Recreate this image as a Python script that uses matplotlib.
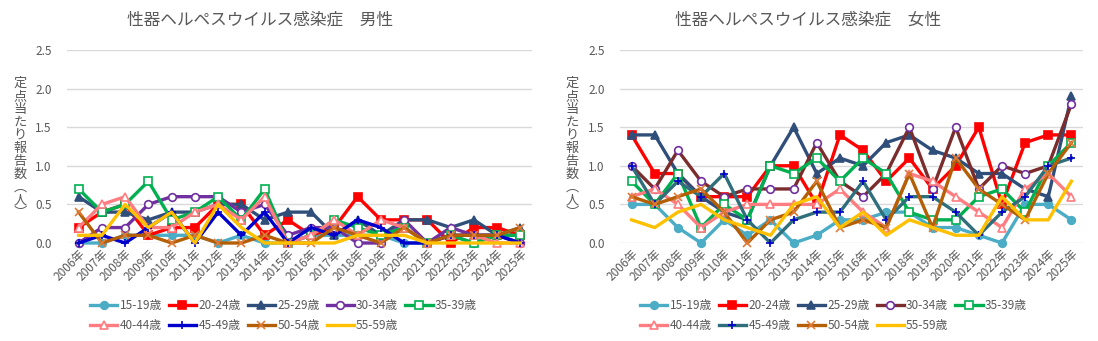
import matplotlib
matplotlib.use("Agg")
import matplotlib.pyplot as plt

plt.rcParams['font.family'] = ['Noto Sans CJK JP', 'DejaVu Sans']

years = [f"{y}年" for y in range(2006, 2026)]
ages = ['15-19歳', '20-24歳', '25-29歳', '30-34歳', '35-39歳',
        '40-44歳', '45-49歳', '50-54歳', '55-59歳']

# 男性
m_1519 = [0.0, 0.0, 0.1, 0.1, 0.1, 0.1, 0.0, 0.1, 0.0, 0.0, 0.1, 0.1, 0.1, 0.1, 0.0, 0.0, 0.1, 0.0, 0.1, 0.1]
m_2024 = [0.2, 0.4, 0.5, 0.1, 0.2, 0.2, 0.5, 0.5, 0.1, 0.3, 0.1, 0.2, 0.6, 0.3, 0.3, 0.3, 0.0, 0.2, 0.2, 0.1]
m_2529 = [0.6, 0.4, 0.4, 0.3, 0.4, 0.4, 0.5, 0.5, 0.3, 0.4, 0.4, 0.1, 0.3, 0.1, 0.3, 0.3, 0.2, 0.3, 0.1, 0.2]
m_3034 = [0.0, 0.2, 0.2, 0.5, 0.6, 0.6, 0.6, 0.4, 0.5, 0.1, 0.2, 0.2, 0.0, 0.0, 0.3, 0.0, 0.2, 0.1, 0.1, 0.0]
m_3539 = [0.7, 0.4, 0.5, 0.8, 0.3, 0.4, 0.6, 0.3, 0.7, 0.0, 0.1, 0.3, 0.2, 0.1, 0.2, 0.0, 0.1, 0.0, 0.1, 0.1]
m_4044 = [0.2, 0.5, 0.6, 0.2, 0.2, 0.4, 0.5, 0.3, 0.6, 0.0, 0.1, 0.3, 0.1, 0.3, 0.2, 0.0, 0.1, 0.1, 0.0, 0.0]
m_4549 = [0.0, 0.1, 0.0, 0.2, 0.4, 0.0, 0.4, 0.1, 0.4, 0.0, 0.2, 0.1, 0.3, 0.2, 0.0, 0.0, 0.1, 0.1, 0.1, 0.0]
m_5054 = [0.4, 0.0, 0.1, 0.1, 0.0, 0.1, 0.0, 0.0, 0.1, 0.0, 0.0, 0.2, 0.1, 0.0, 0.2, 0.0, 0.1, 0.1, 0.1, 0.2]
m_5559 = [0.1, 0.1, 0.5, 0.2, 0.4, 0.0, 0.5, 0.2, 0.0, 0.0, 0.0, 0.0, 0.1, 0.1, 0.1, 0.0, 0.0, 0.0, 0.0, 0.0]

# 女性
f_1519 = [0.5, 0.5, 0.2, 0.0, 0.3, 0.1, 0.3, 0.0, 0.1, 0.3, 0.3, 0.4, 0.4, 0.2, 0.2, 0.1, 0.0, 0.5, 0.5, 0.3]
f_2024 = [1.4, 0.9, 0.9, 0.6, 0.6, 0.6, 1.0, 1.0, 0.5, 1.4, 1.2, 0.8, 1.1, 0.7, 1.0, 1.5, 0.5, 1.3, 1.4, 1.4]
f_2529 = [1.4, 1.4, 0.9, 0.6, 0.4, 0.3, 1.0, 1.5, 0.9, 1.1, 1.0, 1.3, 1.4, 1.2, 1.1, 0.9, 0.9, 0.7, 0.6, 1.9]
f_3034 = [1.0, 0.7, 1.2, 0.8, 0.6, 0.7, 0.7, 0.7, 1.3, 0.8, 0.6, 0.9, 1.5, 0.7, 1.5, 0.7, 1.0, 0.9, 1.0, 1.8]
f_3539 = [0.8, 0.5, 0.9, 0.2, 0.5, 0.3, 1.0, 0.9, 1.1, 0.8, 1.1, 0.9, 0.4, 0.3, 0.3, 0.6, 0.7, 0.4, 1.0, 1.3]
f_4044 = [0.6, 0.7, 0.5, 0.2, 0.4, 0.5, 0.5, 0.5, 0.5, 0.7, 0.4, 0.2, 0.9, 0.8, 0.6, 0.4, 0.2, 0.7, 0.9, 0.6]
f_4549 = [1.0, 0.5, 0.8, 0.6, 0.9, 0.3, 0.0, 0.3, 0.4, 0.4, 0.8, 0.3, 0.6, 0.6, 0.4, 0.1, 0.4, 0.6, 1.0, 1.1]
f_5054 = [0.6, 0.5, 0.6, 0.7, 0.4, 0.0, 0.3, 0.4, 0.8, 0.2, 0.3, 0.2, 0.9, 0.2, 1.1, 0.7, 0.5, 0.3, 0.9, 1.3]
f_5559 = [0.3, 0.2, 0.4, 0.5, 0.3, 0.2, 0.1, 0.5, 0.6, 0.2, 0.4, 0.1, 0.3, 0.2, 0.1, 0.1, 0.6, 0.3, 0.3, 0.8]

male = [m_1519, m_2024, m_2529, m_3034, m_3539, m_4044, m_4549, m_5054, m_5559]
female = [f_1519, f_2024, f_2529, f_3034, f_3539, f_4044, f_4549, f_5054, f_5559]

# line colour, marker, marker face, marker edge
m_styles = [
    ('#4BACC6', 'o', '#4BACC6', '#4BACC6'),
    ('#FF0000', 's', '#FF0000', '#FF0000'),
    ('#2F4F7A', '^', '#2F4F7A', '#2F4F7A'),
    ('#7030A0', 'o', 'white', '#7030A0'),
    ('#00B050', 's', 'white', '#00B050'),
    ('#FF7C80', '^', 'white', '#FF7C80'),
    ('#0000CC', '+', '#0000CC', '#0000CC'),
    ('#B45F06', 'x', '#E07B39', '#E07B39'),
    ('#FFC000', 'None', '#FFC000', '#FFC000'),
]
f_styles = list(m_styles)
f_styles[3] = ('#7B2C2C', 'o', 'white', '#7030A0')
f_styles[6] = ('#2F6E7B', '+', '#0000CC', '#0000CC')

gray = '#595959'
W, H = 1098, 341
# stacked vertical axis title, brackets in vertical form
ylabel = '\n'.join('定点当たり報告数︵人︶')

fig = plt.figure(figsize=(W / 100, H / 100), dpi=100)


def panel(x0, x1, data, styles, title, tx, lx, legx):
    ax = fig.add_axes([x0 / W, (H - 243) / H, (x1 - x0) / W, (243 - 50) / H])
    xs = list(range(len(years)))
    handles = []
    for vals, st, lab in zip(data, styles, ages):
        lc, mk, mf, me = st
        h, = ax.plot(xs, vals, color=lc, lw=2.4, marker=mk, ms=5.5,
                     mfc=mf, mec=me, mew=1.2, clip_on=False, label=lab, zorder=3)
        handles.append(h)
    ax.set_xlim(-0.5, len(years) - 0.5)
    ax.set_ylim(0, 2.5)
    ax.set_yticks([0, 0.5, 1.0, 1.5, 2.0, 2.5])
    ax.set_yticklabels([f"{v:.1f}" for v in [0, 0.5, 1.0, 1.5, 2.0, 2.5]])
    ax.set_xticks(xs)
    ax.set_xticklabels(years, rotation=45, ha='right', va='top', rotation_mode='anchor')
    ax.grid(axis='y', color='#D9D9D9', lw=1)
    ax.set_axisbelow(True)
    for s in ax.spines.values():
        s.set_visible(False)
    ax.tick_params(length=0, colors=gray, labelsize=8.5)
    ax.tick_params(axis='y', pad=11)
    ax.tick_params(axis='x', pad=3)
    fig.text(tx / W, 1 - 20 / H, title, ha='center', va='center', fontsize=12, color=gray)
    fig.text(lx / W, 1 - 77 / H, ylabel, ha='center', va='top', fontsize=9.5,
             color=gray, linespacing=1.0)
    order = [0, 5, 1, 6, 2, 7, 3, 8, 4]
    fig.legend([handles[i] for i in order], [ages[i] for i in order],
               ncol=5, loc='upper left', bbox_to_anchor=(legx / W, 1 - 299 / H),
               frameon=False, fontsize=8.5, handlelength=2.3, handletextpad=0.2,
               columnspacing=0.6, labelspacing=0.6, borderpad=0, borderaxespad=0,
               labelcolor=gray)
    return ax


panel(67, 532, male, m_styles, '性器ヘルペスウイルス感染症　男性', 260, 20, 90)
panel(620, 1083, female, f_styles, '性器ヘルペスウイルス感染症　女性', 808, 572, 640)

fig.savefig('out.png', dpi=100)
